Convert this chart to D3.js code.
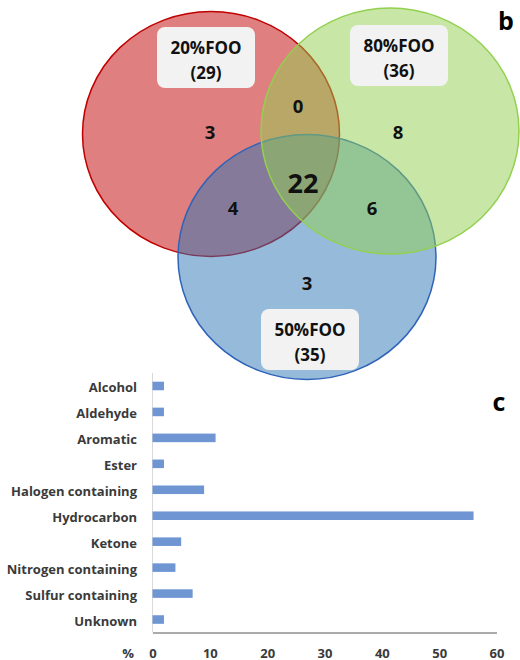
<!DOCTYPE html>
<html>
<head>
<meta charset="utf-8">
<script src="https://cdn.jsdelivr.net/npm/d3@7"></script>
<style>
  html, body { margin: 0; padding: 0; background: #fff; }
  svg { display: block; font-family: "Open Sans", "Liberation Sans", Arial, sans-serif; }
</style>
</head>
<body>
<svg id="chart" width="520" height="660"></svg>
<script>
// ---------- DATA ----------
// Venn diagram (panel b)
const setNames   = ["20%FOO", "50%FOO", "80%FOO"];
const setTotals  = [29, 35, 36];
const regionKeys = ["20", "20∩80", "80", "20∩50∩80", "20∩50", "50∩80", "50"];
const regionCounts = [3, 0, 8, 22, 4, 6, 3];

// Bar chart (panel c)
const categories = ["Alcohol", "Aldehyde", "Aromatic", "Ester", "Halogen containing",
                    "Hydrocarbon", "Ketone", "Nitrogen containing", "Sulfur containing", "Unknown"];
const percentages = [2, 2, 11, 2, 9, 56, 5, 4, 7, 2];
const xTicks = [0, 10, 20, 30, 40, 50, 60];

// ---------- LAYOUT / STYLE ----------
const svg = d3.select("#chart");
const FONT = "'Open Sans', 'Liberation Sans', Arial, sans-serif";

// Venn geometry in a unit space mapped with scales
const vx = d3.scaleLinear().domain([0, 1]).range([0, 520]);
const vy = d3.scaleLinear().domain([0, 1]).range([0, 660]);
const circleGeom = {
  "20%FOO": {cx: 211/520, cy: 134/660, rx: 128.5, ry: 122.5, fill: "#C00000", stroke: "#C00000"},
  "50%FOO": {cx: 307/520, cy: 257/660, rx: 129, ry: 122.5, fill: "#2E75B6", stroke: "#2F63B8"},
  "80%FOO": {cx: 390/520, cy: 131/660, rx: 129, ry: 123, fill: "#92D050", stroke: "#92D050"}
};
const labelGeom = {
  "20%FOO": {x: 157/520, y: 27/660},
  "50%FOO": {x: 261/520, y: 309/660},
  "80%FOO": {x: 350/520, y: 25/660}
};
const regionGeom = {
  "20": {x: 210/520, y: 131/660, size: 18.5},
  "20∩80": {x: 298/520, y: 105/660, size: 18.5},
  "80": {x: 398/520, y: 131/660, size: 18.5},
  "20∩50∩80": {x: 303/520, y: 182/660, size: 27},
  "20∩50": {x: 233/520, y: 207/660, size: 18.5},
  "50∩80": {x: 372/520, y: 207/660, size: 18.5},
  "50": {x: 307/520, y: 282/660, size: 18.5}
};

// draw order: red, blue, green
const drawOrder = ["20%FOO", "50%FOO", "80%FOO"];
const venn = svg.append("g").attr("class", "venn");
venn.selectAll("ellipse")
  .data(drawOrder)
  .join("ellipse")
  .attr("cx", d => vx(circleGeom[d].cx))
  .attr("cy", d => vy(circleGeom[d].cy))
  .attr("rx", d => circleGeom[d].rx)
  .attr("ry", d => circleGeom[d].ry)
  .attr("fill", d => circleGeom[d].fill)
  .attr("fill-opacity", 0.5)
  .attr("stroke", d => circleGeom[d].stroke)
  .attr("stroke-width", 1.5);

// set labels
const labels = venn.selectAll("g.setlabel")
  .data(setNames.map((n, i) => ({name: n, total: setTotals[i]})))
  .join("g")
  .attr("class", "setlabel")
  .attr("transform", d => `translate(${vx(labelGeom[d.name].x)},${vy(labelGeom[d.name].y)})`);
labels.append("rect")
  .attr("width", 98).attr("height", 61)
  .attr("rx", 8).attr("ry", 8)
  .attr("fill", "#F2F2F2");
labels.append("text")
  .attr("x", 49).attr("y", 26.5)
  .attr("text-anchor", "middle")
  .attr("font-size", 17).attr("font-weight", "bold").attr("fill", "#111")
  .text(d => d.name);
labels.append("text")
  .attr("x", 49).attr("y", 51.5)
  .attr("text-anchor", "middle")
  .attr("font-size", 17).attr("font-weight", "bold").attr("fill", "#111")
  .text(d => `(${d.total})`);

// region counts
venn.selectAll("text.region")
  .data(regionKeys.map((k, i) => ({key: k, n: regionCounts[i]})))
  .join("text")
  .attr("class", "region")
  .attr("x", d => vx(regionGeom[d.key].x))
  .attr("y", d => vy(regionGeom[d.key].y))
  .attr("text-anchor", "middle")
  .attr("dominant-baseline", "central")
  .attr("font-size", d => regionGeom[d.key].size)
  .attr("font-weight", "bold")
  .attr("fill", "#111")
  .text(d => d.n);

// panel letters
svg.append("text").attr("x", 506).attr("y", 30).attr("text-anchor", "middle")
  .attr("font-size", 25).attr("font-weight", "bold").attr("fill", "#000").text("b");
svg.append("text").attr("x", 499).attr("y", 411).attr("text-anchor", "middle")
  .attr("font-size", 25).attr("font-weight", "bold").attr("fill", "#000").text("c");

// ---------- BAR CHART ----------
const x = d3.scaleLinear().domain([0, 60]).range([152.5, 496.5]);
const y = d3.scaleBand().domain(categories).range([373, 632.5])
  .paddingInner(0.67).paddingOuter(0.335);

const bars = svg.append("g").attr("class", "bars");
// vertical axis line (light)
bars.append("line")
  .attr("x1", x(0)).attr("x2", x(0))
  .attr("y1", y.range()[0]).attr("y2", y.range()[1])
  .attr("stroke", "#D9D9D9").attr("stroke-width", 1);

bars.selectAll("rect")
  .data(categories.map((c, i) => ({c, v: percentages[i]})))
  .join("rect")
  .attr("x", x(0))
  .attr("y", d => y(d.c))
  .attr("width", d => x(d.v) - x(0))
  .attr("height", y.bandwidth())
  .attr("fill", "#6F96D3");

// category labels
bars.selectAll("text.cat")
  .data(categories)
  .join("text")
  .attr("class", "cat")
  .attr("x", 137)
  .attr("y", d => y(d) + y.bandwidth() / 2 + 1.5)
  .attr("text-anchor", "end")
  .attr("dominant-baseline", "central")
  .attr("font-size", 13).attr("font-weight", "bold").attr("fill", "#3A3A3A")
  .text(d => d);

// x axis
const xAxis = d3.axisBottom(x).tickValues(xTicks).tickSize(0).tickPadding(0);
const gx = bars.append("g").attr("transform", `translate(0,${y.range()[1]})`).call(xAxis);
gx.select(".domain").attr("stroke", "#595959").attr("stroke-width", 1.2);
gx.selectAll(".tick text")
  .attr("dy", null)
  .attr("y", 20)
  .attr("dominant-baseline", "central")
  .attr("font-family", FONT)
  .attr("font-size", 13).attr("font-weight", "bold").attr("fill", "#3A3A3A");
bars.append("text").attr("x", 128).attr("y", y.range()[1] + 20)
  .attr("text-anchor", "middle").attr("dominant-baseline", "central")
  .attr("font-size", 13).attr("font-weight", "bold").attr("fill", "#3A3A3A").text("%");
</script>
</body>
</html>
